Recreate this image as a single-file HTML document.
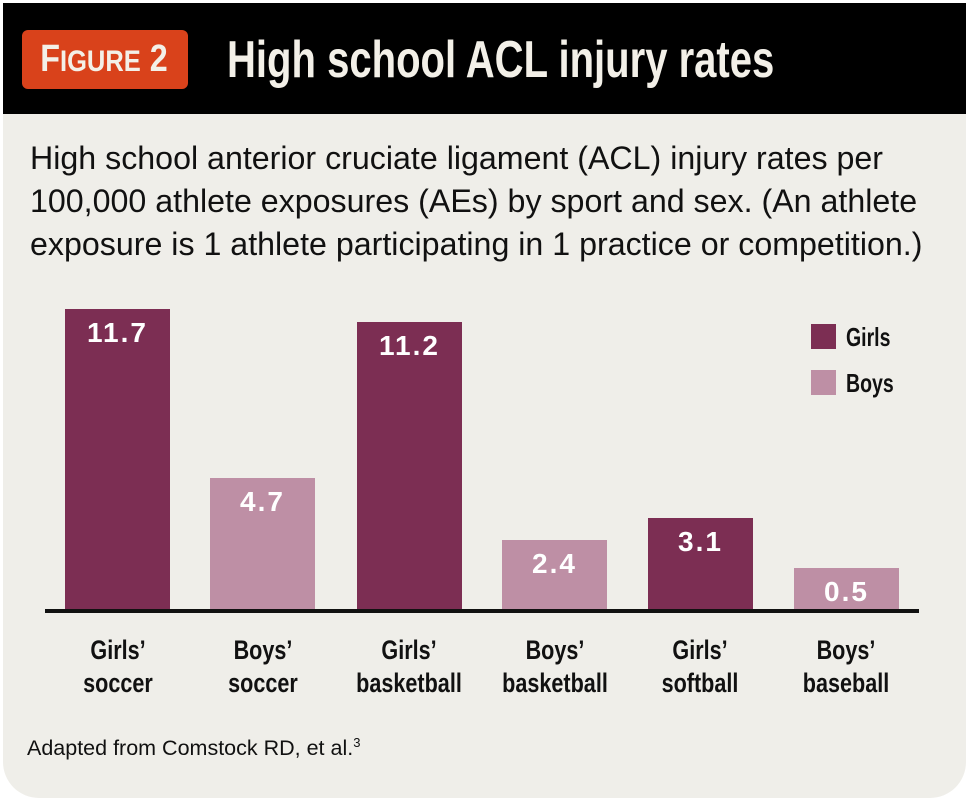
<!DOCTYPE html>
<html><head><meta charset="utf-8"><style>
*{margin:0;padding:0;box-sizing:border-box}
body{width:969px;height:804px;background:#fff;position:relative;overflow:hidden;font-family:"Liberation Sans",sans-serif}
.panel{position:absolute;left:3px;top:3px;width:963px;height:795px;background:#efeee9;border-bottom-left-radius:36px;border-bottom-right-radius:36px}
.hdr{position:absolute;left:3px;top:3px;width:963px;height:111px;background:#000}
.fig{position:absolute;left:22px;top:30px;width:166px;height:59px;background:#d9421b;border-radius:6px}
.figt{position:absolute;left:104px;top:30px;color:#f3f0e8;font-weight:bold;font-size:38px;line-height:59px;white-space:nowrap;transform:translateX(-50%) scaleX(0.85)}
.figt small{font-size:30px}
.title{position:absolute;left:227px;top:30px;color:#f3f0e8;font-weight:bold;font-size:52px;line-height:60px;white-space:nowrap;transform-origin:0 0;transform:scaleX(0.77)}
.sub{position:absolute;left:30px;top:137px;font-size:32.5px;line-height:43px;color:#111;white-space:nowrap;transform-origin:0 0;transform:scaleX(0.99)}
.bar{position:absolute;width:105px;bottom:193px;color:#fff;font-weight:bold;font-size:28px;text-align:center;padding-top:8px;letter-spacing:2px}
.g{background:#7c2e53}.b{background:#be8fa5}
.axis{position:absolute;left:45px;top:609px;width:874px;height:4px;background:#111}
.cat{position:absolute;top:634px;width:150px;text-align:center;font-weight:bold;font-size:27px;line-height:33px;color:#111;transform:scaleX(0.8)}
.leg{position:absolute;left:811px;width:25px;height:25px}
.lt{position:absolute;left:846px;font-weight:bold;font-size:26px;color:#111;transform-origin:0 0;transform:scaleX(0.75)}
.foot{position:absolute;left:27px;top:735px;font-size:21.5px;color:#111}
</style></head><body>
<div class="panel"></div>
<div class="hdr"></div>
<div class="fig"></div>
<div class="figt">F<small>IGURE</small> 2</div>
<div class="title">High school ACL injury rates</div>
<div class="sub">High school anterior cruciate ligament (ACL) injury rates per<br>100,000 athlete exposures (AEs) by sport and sex. (An athlete<br>exposure is 1 athlete participating in 1 practice or competition.)</div>
<div class="bar g" style="left:65px;height:302px">11.7</div>
<div class="bar b" style="left:210px;height:133px">4.7</div>
<div class="bar g" style="left:357px;height:289px">11.2</div>
<div class="bar b" style="left:502px;height:71px">2.4</div>
<div class="bar g" style="left:648px;height:93px">3.1</div>
<div class="bar b" style="left:794px;height:43px">0.5</div>
<div class="axis"></div>
<div class="cat" style="left:43px">Girls’<br>soccer</div>
<div class="cat" style="left:188px">Boys’<br>soccer</div>
<div class="cat" style="left:334px">Girls’<br>basketball</div>
<div class="cat" style="left:480px">Boys’<br>basketball</div>
<div class="cat" style="left:625px">Girls’<br>softball</div>
<div class="cat" style="left:771px">Boys’<br>baseball</div>
<div class="leg g" style="top:324px"></div><div class="lt" style="top:322px">Girls</div>
<div class="leg b" style="top:370px"></div><div class="lt" style="top:368px">Boys</div>
<div class="foot">Adapted from Comstock RD, et al.<sup style="font-size:13px">3</sup></div>
</body></html>
